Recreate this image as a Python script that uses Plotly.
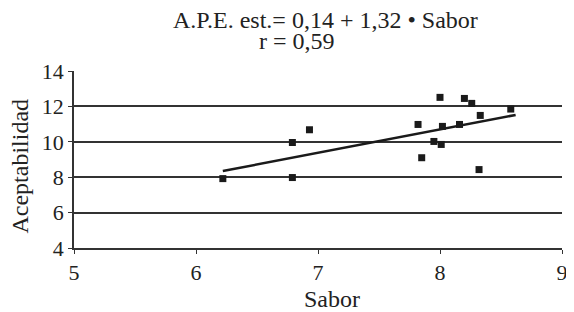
import plotly.graph_objects as go

# Data
sabor = [6.22, 6.79, 6.79, 6.93, 7.82, 7.85, 7.95, 8.00, 8.01, 8.02, 8.16, 8.20, 8.26, 8.32, 8.33, 8.58]
aceptabilidad = [7.92, 9.96, 7.98, 10.68, 10.98, 9.10, 10.02, 12.51, 9.85, 10.87, 10.98, 12.45, 12.17, 8.43, 11.49, 11.85]

intercept = 0.14
slope = 1.32
line_x = [6.22, 8.62]
line_y = [intercept + slope * v for v in line_x]

x_ticks = [5, 6, 7, 8, 9]
y_ticks = [4, 6, 8, 10, 12, 14]

title_line1 = "A.P.E. est.= 0,14 + 1,32 • Sabor"
title_line2 = "r = 0,59"
x_title = "Sabor"
y_title = "Aceptabilidad"

FONT = "'Liberation Serif', 'Times New Roman', serif"
INK = "#222"

fig = go.Figure()
fig.add_trace(go.Scatter(
    x=sabor, y=aceptabilidad, mode="markers",
    marker=dict(symbol="square", size=7, color="#1a1a1a"),
    showlegend=False, hoverinfo="x+y"))
fig.add_trace(go.Scatter(
    x=line_x, y=line_y, mode="lines",
    line=dict(color="#1a1a1a", width=2.5),
    showlegend=False))

annots = [
    dict(text=title_line1, x=0.515, y=1.286, size=24, angle=0),
    dict(text=title_line2, x=0.457, y=1.170, size=24, angle=0),
    dict(text=x_title, x=0.528, y=-0.288, size=24, angle=0),
    dict(text=y_title, x=-0.110, y=0.462, size=24, angle=-90),
]
for a in annots:
    fig.add_annotation(text=a["text"], xref="paper", yref="paper",
                       x=a["x"], y=a["y"], xanchor="center", yanchor="middle",
                       showarrow=False, textangle=a["angle"],
                       font=dict(family=FONT, size=a["size"], color=INK))

fig.update_layout(
    width=566, height=304,
    margin=dict(l=66, r=6, t=63, b=64),
    paper_bgcolor="white", plot_bgcolor="white",
    font=dict(family=FONT, size=22, color=INK),
    xaxis=dict(range=[5, 9], tickvals=x_ticks, ticks="outside", ticklen=4,
               tickcolor="#333", showline=True, linecolor="#333", linewidth=1.5,
               showgrid=False, zeroline=False, ticklabeloverflow="allow",
               tickfont=dict(family=FONT, size=22, color=INK)),
    yaxis=dict(range=[4, 14], tickvals=y_ticks, ticks="outside", ticklen=4,
               tickcolor="#333", showline=True, linecolor="#333", linewidth=1.5,
               showgrid=True, gridcolor="#333", gridwidth=1.5, zeroline=False,
               tickfont=dict(family=FONT, size=22, color=INK)),
)

fig.write_html("out.html")
